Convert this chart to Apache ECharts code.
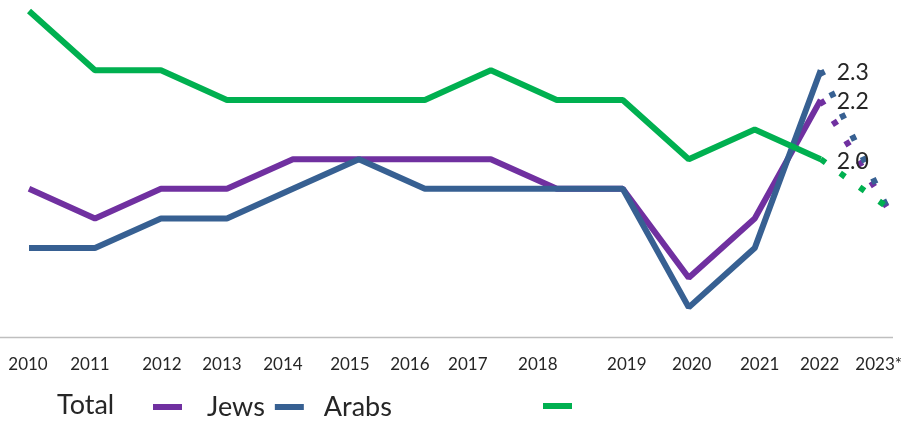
<!DOCTYPE html>
<html>
<head>
<meta charset="utf-8">
<script src="https://cdn.jsdelivr.net/npm/echarts@6/dist/echarts.min.js"></script>
<style>
  html, body { margin: 0; padding: 0; background: #fff; }
  #chart { width: 905px; height: 422px; }
</style>
</head>
<body>
<div id="chart"></div>
<script>
const years = ['2010', '2011', '2012', '2013', '2014', '2015', '2016', '2017', '2018', '2019', '2020', '2021', '2022', '2023*'];
// 2010-2022, solid lines
const jews = [1.9, 1.8, 1.9, 1.9, 2.0, 2.0, 2.0, 2.0, 1.9, 1.9, 1.6, 1.8, 2.2];
const arabs = [1.7, 1.7, 1.8, 1.8, 1.9, 2.0, 1.9, 1.9, 1.9, 1.9, 1.5, 1.7, 2.3];
const total = [2.5, 2.3, 2.3, 2.2, 2.2, 2.2, 2.2, 2.3, 2.2, 2.2, 2.0, 2.1, 2.0];
// 2023* estimates, dotted
const jewsEst = 1.84;
const arabsEst = 1.84;
const totalEst = 1.84;

// the original's x labels sit a little off their ticks
const labelShift = [-1, -5, 1, -5, -10, -9, -15, -23, -19, 4, 3, 5, -1, -8];

const FONT = 'Lato';
const TEXT = '#262626';
const PURPLE = '#7030A0';
const BLUE = '#376092';
const GREEN = '#00B050';

function solid(name, color, data) {
  return {
    type: 'line', name, data, symbol: 'none',
    lineStyle: { width: 6, color, cap: 'butt' },
    itemStyle: { color },
    endLabel: {
      show: true, formatter: p => p.value.toFixed(1), distance: 16,
      fontFamily: FONT, fontSize: 23, color: TEXT, offset: [0, 2]
    },
    emphasis: { disabled: true }
  };
}

function dotted(name, color, data, est) {
  return {
    type: 'line', name: name + ' est', symbol: 'none',
    data: years.map((y, i) => (i === data.length - 1 ? data[i] : i === data.length ? est : null)),
    lineStyle: { width: 6, color, type: [6, 18], cap: 'butt' },
    itemStyle: { color },
    emphasis: { disabled: true }
  };
}

const rich = {};
labelShift.forEach((s, i) => {
  rich['n' + i] = {
    fontFamily: FONT, fontSize: 17, color: TEXT,
    padding: s < 0 ? [0, -2 * s, 0, 0] : [0, 0, 0, 2 * s]
  };
});

const chart = echarts.init(document.getElementById('chart'));
chart.setOption({
  animation: false,
  backgroundColor: '#fff',
  title: {
    text: 'Total', left: 52, top: 387,
    textStyle: { fontFamily: FONT, fontSize: 27, fontWeight: 'normal', color: TEXT }
  },
  legend: [
    {
      data: ['Jews', 'Arabs'], left: 148, top: 387, icon: 'rect',
      itemWidth: 29, itemHeight: 6, itemGap: 10, selectedMode: false,
      formatter: n => (n === 'Jews' ? '{j|Jews}' : '{a|Arabs}'),
      textStyle: {
        fontFamily: FONT, fontSize: 27, color: TEXT, lineHeight: 30,
        rich: {
          j: { fontFamily: FONT, fontSize: 27, color: TEXT, padding: [0, 0, 0, 20] },
          a: { fontFamily: FONT, fontSize: 27, color: TEXT, padding: [0, 0, 0, 15] }
        }
      }
    },
    {
      data: ['Total'], left: 538, top: 398, icon: 'rect',
      itemWidth: 29, itemHeight: 6, selectedMode: false,
      formatter: () => '',
      textStyle: { fontFamily: FONT, fontSize: 27, lineHeight: 30 }
    }
  ],
  grid: { left: 29, right: 18, top: 11, bottom: 85 },
  xAxis: {
    type: 'category', data: years, boundaryGap: false,
    axisLine: { show: false },
    axisTick: { show: false },
    axisLabel: {
      interval: 0, margin: 19,
      formatter: (v, i) => '{n' + i + '|' + v + '}',
      rich
    }
  },
  yAxis: {
    type: 'value', min: 1.4, max: 2.5,
    show: false, splitLine: { show: false }
  },
  graphic: [{
    type: 'line', silent: true,
    shape: { x1: 0, y1: 337.5, x2: 893, y2: 337.5 },
    style: { stroke: '#BFBFBF', lineWidth: 1.5 }
  }],
  series: [
    solid('Jews', PURPLE, jews),
    solid('Arabs', BLUE, arabs),
    solid('Total', GREEN, total),
    dotted('Jews', PURPLE, jews, jewsEst),
    dotted('Arabs', BLUE, arabs, arabsEst),
    dotted('Total', GREEN, total, totalEst)
  ]
});
</script>
</body>
</html>
